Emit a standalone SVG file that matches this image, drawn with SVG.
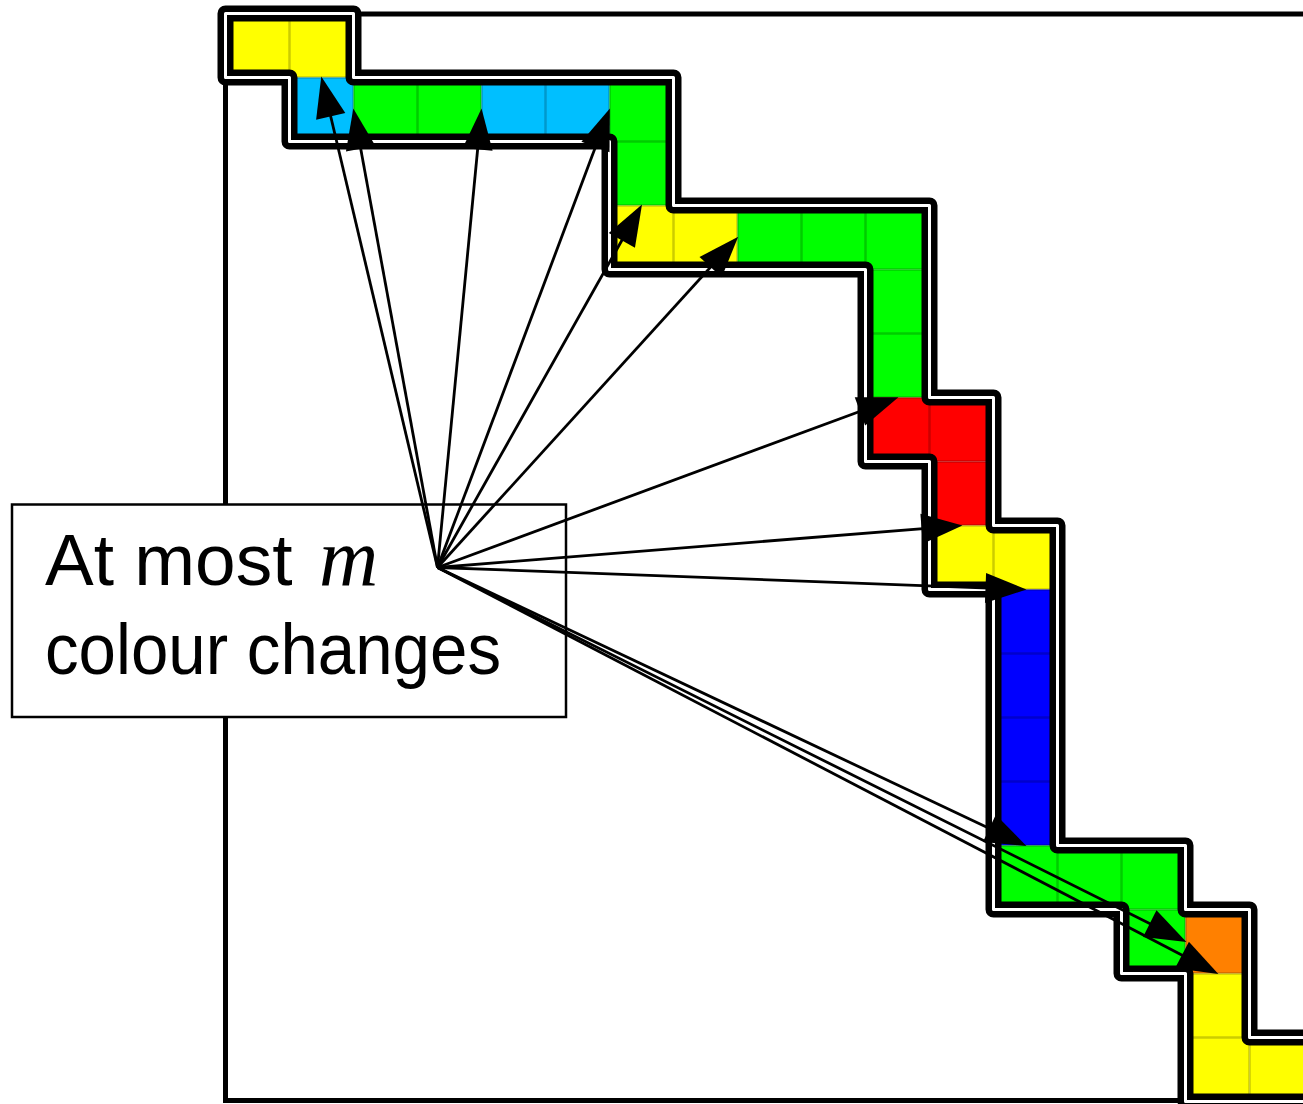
<svg xmlns="http://www.w3.org/2000/svg" width="1303" height="1104" viewBox="0 0 1303 1104">
<style>
.Y{fill:#ffff00}.G{fill:#00ff00}.LB{fill:#00bfff}.B{fill:#0000ff}.R{fill:#ff0000}.O{fill:#ff8000}
.grid{stroke:#000;stroke-opacity:0.2;stroke-width:2.5;fill:none}
.arr{stroke:#000;stroke-width:2.8;fill:none;marker-end:url(#ah)}
.lbl{font-family:"Liberation Sans",Arial,sans-serif;font-size:73px;fill:#000}
</style>
<defs>
<marker id="ah" markerUnits="userSpaceOnUse" markerWidth="44" markerHeight="32" refX="30" refY="15" orient="auto" overflow="visible"><path d="M0,0 L41,15 L0,30 z" fill="#000"/></marker>
</defs>
<rect width="1303" height="1104" fill="#fff"/>
<g id="matrix">
<rect x="225.5" y="14" width="1300" height="1086.5" fill="none" stroke="#000" stroke-width="5"/>
</g>
<g id="cells">
<rect class="Y" x="225.5" y="13.5" width="128" height="64"/>
<rect class="LB" x="289.5" y="77.5" width="64" height="64"/>
<rect class="G" x="353.5" y="77.5" width="128" height="64"/>
<rect class="LB" x="481.5" y="77.5" width="128" height="64"/>
<rect class="G" x="609.5" y="77.5" width="64" height="128"/>
<rect class="Y" x="609.5" y="205.5" width="128" height="64"/>
<rect class="G" x="737.5" y="205.5" width="192" height="64"/>
<rect class="G" x="865.5" y="269.5" width="64" height="128"/>
<rect class="R" x="865.5" y="397.5" width="128" height="64"/>
<rect class="R" x="929.5" y="461.5" width="64" height="64"/>
<rect class="Y" x="929.5" y="525.5" width="128" height="64"/>
<rect class="B" x="993.5" y="589.5" width="64" height="256"/>
<rect class="G" x="993.5" y="845.5" width="192" height="64"/>
<rect class="G" x="1121.5" y="909.5" width="64" height="64"/>
<rect class="O" x="1185.5" y="909.5" width="64" height="64"/>
<rect class="Y" x="1185.5" y="973.5" width="64" height="128"/>
<rect class="Y" x="1249.5" y="1037.5" width="100" height="64"/>
</g>
<g id="gridlines">
<path class="grid" d="M289.5,13.5V77.5 M289.5,77.5H353.5 M353.5,77.5V141.5 M417.5,77.5V141.5 M481.5,77.5V141.5 M545.5,77.5V141.5 M609.5,77.5V141.5 M609.5,141.5H673.5 M609.5,205.5H673.5 M673.5,205.5V269.5 M737.5,205.5V269.5 M801.5,205.5V269.5 M865.5,205.5V269.5 M865.5,269.5H929.5 M865.5,333.5H929.5 M865.5,397.5H929.5 M929.5,397.5V461.5 M929.5,461.5H993.5 M929.5,525.5H993.5 M993.5,525.5V589.5 M993.5,589.5H1057.5 M993.5,653.5H1057.5 M993.5,717.5H1057.5 M993.5,781.5H1057.5 M993.5,845.5H1057.5 M1057.5,845.5V909.5 M1121.5,845.5V909.5 M1121.5,909.5H1185.5 M1185.5,909.5V973.5 M1185.5,973.5H1249.5 M1185.5,1037.5H1249.5 M1249.5,1037.5V1101.5"/>
</g>
<g id="band">
<path d="M225.5,13.5 H353.5 V77.5 H673.5 V205.5 H929.5 V397.5 H993.5 V525.5 H1057.5 V845.5 H1185.5 V909.5 H1249.5 V1037.5 H1400 V1101.5 H1185.5 V973.5 H1121.5 V909.5 H993.5 V589.5 H929.5 V461.5 H865.5 V269.5 H609.5 V141.5 H289.5 V77.5 H225.5 Z" fill="none" stroke="#000" stroke-width="16" stroke-linejoin="round"/>
<path d="M225.5,13.5 H353.5 V77.5 H673.5 V205.5 H929.5 V397.5 H993.5 V525.5 H1057.5 V845.5 H1185.5 V909.5 H1249.5 V1037.5 H1400 V1101.5 H1185.5 V973.5 H1121.5 V909.5 H993.5 V589.5 H929.5 V461.5 H865.5 V269.5 H609.5 V141.5 H289.5 V77.5 H225.5 Z" fill="none" stroke="#fff" stroke-width="3" stroke-linejoin="round"/>
</g>
<g id="label">
<rect x="12" y="504.5" width="554" height="212.5" fill="#fff" stroke="#000" stroke-width="2.5"/>
<text class="lbl" x="45" y="585">At most</text>
<text x="319" y="585" font-family="'Liberation Serif','Times New Roman',serif" font-style="italic" font-size="82">m</text>
<text class="lbl" x="45" y="674" textLength="456" lengthAdjust="spacingAndGlyphs">colour changes</text>
</g>
<g id="connectors">
<path class="arr" d="M437.5,567.5 L323.8,87.2"/>
<path class="arr" d="M437.5,567.5 L355.3,119.3"/>
<path class="arr" d="M437.5,567.5 L480.5,119.5"/>
<path class="arr" d="M437.5,567.5 L606,118.9"/>
<path class="arr" d="M437.5,567.5 L636.6,214.2"/>
<path class="arr" d="M437.5,567.5 L730.8,244.9"/>
<path class="arr" d="M437.5,567.5 L888.1,401"/>
<path class="arr" d="M437.5,567.5 L951.5,526.3"/>
<path class="arr" d="M437.5,567.5 L1015.5,589.1"/>
<path class="arr" d="M437.5,567.5 L1016.5,841.2"/>
<path class="arr" d="M437.5,567.5 L1176.6,937"/>
<path class="arr" d="M437.5,567.5 L1208.6,968.9"/>
</g>
</svg>
